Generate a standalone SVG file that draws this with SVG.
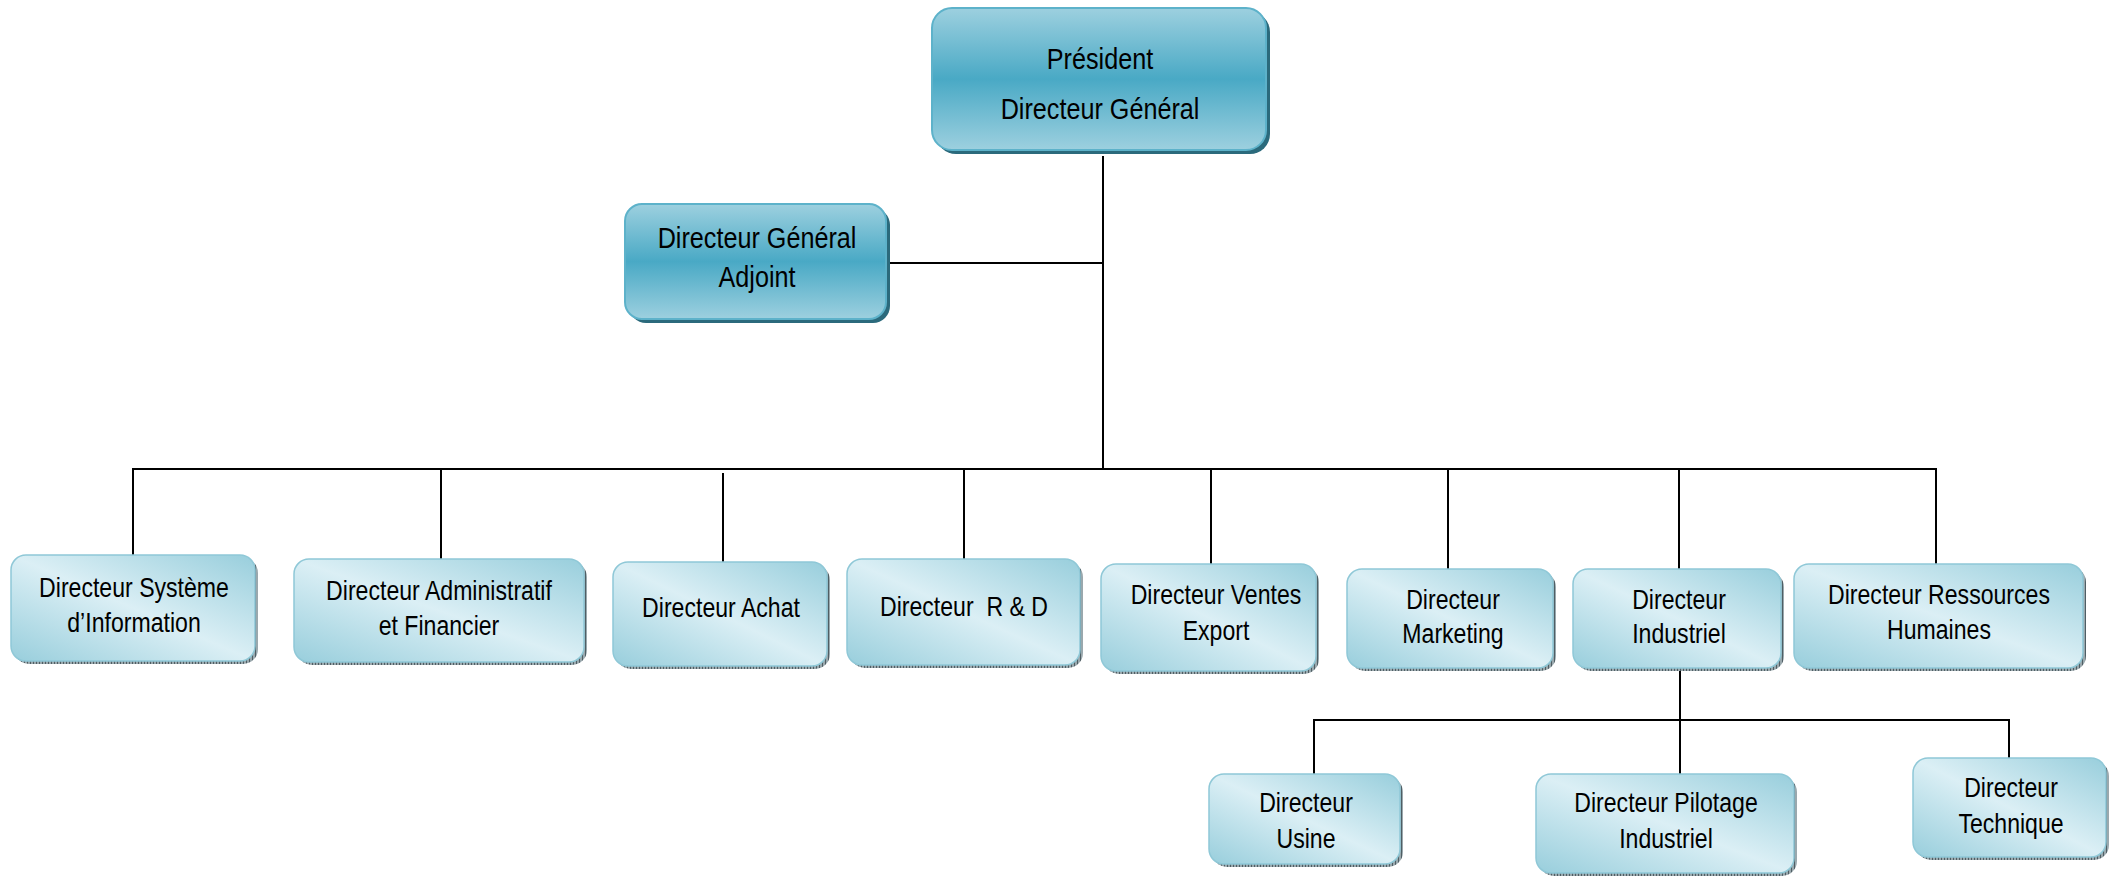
<svg xmlns="http://www.w3.org/2000/svg" width="2114" height="879" viewBox="0 0 2114 879">
<defs>
<linearGradient id="gTop" x1="0" y1="0" x2="0" y2="1">
<stop offset="0" stop-color="#9dd0df"/>
<stop offset="0.5" stop-color="#49a9c5"/>
<stop offset="1" stop-color="#9dd0df"/>
</linearGradient>
<linearGradient id="gBot" x1="1" y1="0" x2="0" y2="1">
<stop offset="0" stop-color="#98cedc"/>
<stop offset="0.5" stop-color="#dbeff5"/>
<stop offset="1" stop-color="#98cedc"/>
</linearGradient>
<pattern id="hatch" width="3" height="3" patternUnits="userSpaceOnUse">
<rect width="3" height="3" fill="#9aa8ad"/>
<rect width="1" height="3" fill="#4f5e64"/>
</pattern>
</defs>
<style>
.top{fill:url(#gTop);stroke:#5db2ca;stroke-width:2}
.tsh{fill:#2b6a7c}
.bot{fill:url(#gBot);stroke:#8fc8d7;stroke-width:1.5}
.bsh{fill:url(#hatch)}
text{font-family:"Liberation Sans",Arial,sans-serif;fill:#000;text-anchor:middle}
.t1{font-size:30px}
.t2{font-size:27.5px}
.conn line{stroke:#000;stroke-width:2}
</style>
<g class="conn" id="connectors">
<line x1="1103" y1="156" x2="1103" y2="470"/>
<line x1="888" y1="263" x2="1103" y2="263"/>
<line x1="132" y1="469" x2="1937" y2="469"/>
<line x1="133" y1="469" x2="133" y2="555"/>
<line x1="441" y1="469" x2="441" y2="559"/>
<line x1="723" y1="473" x2="723" y2="562"/>
<line x1="964" y1="469" x2="964" y2="559"/>
<line x1="1211" y1="469" x2="1211" y2="564"/>
<line x1="1448" y1="469" x2="1448" y2="569"/>
<line x1="1679" y1="469" x2="1679" y2="569"/>
<line x1="1936" y1="469" x2="1936" y2="564"/>
<line x1="1680" y1="671" x2="1680" y2="774"/>
<line x1="1313" y1="720" x2="2010" y2="720"/>
<line x1="1314" y1="720" x2="1314" y2="774"/>
<line x1="2009" y1="720" x2="2009" y2="758"/>
</g>
<g id="president">
<rect class="tsh" x="936" y="12" width="334" height="142" rx="20"/>
<rect class="top" x="932" y="8" width="334" height="142" rx="20"/>
<g transform="translate(1100 0) scale(0.84 1)">
<text class="t1" x="0" y="69">Président</text>
<text class="t1" x="0" y="119">Directeur Général</text>
</g>
</g>
<g id="dga">
<rect class="tsh" x="629" y="208" width="261" height="115" rx="17"/>
<rect class="top" x="625" y="204" width="261" height="115" rx="17"/>
<g transform="translate(757 0) scale(0.84 1)">
<text class="t1" x="0" y="248">Directeur Général</text>
<text class="t1" x="0" y="287">Adjoint</text>
</g>
</g>
<g id="dsi">
<rect class="bsh" x="14" y="558" width="244" height="106" rx="15"/>
<rect class="bot" x="11" y="555" width="244" height="106" rx="15"/>
<g transform="translate(134 0) scale(0.84 1)">
<text class="t2" x="0" y="597">Directeur Système</text>
<text class="t2" x="0" y="632">d’Information</text>
</g>
</g>
<g id="daf">
<rect class="bsh" x="297" y="562" width="290" height="103" rx="15"/>
<rect class="bot" x="294" y="559" width="290" height="103" rx="15"/>
<g transform="translate(439 0) scale(0.84 1)">
<text class="t2" x="0" y="600">Directeur Administratif</text>
<text class="t2" x="0" y="635">et Financier</text>
</g>
</g>
<g id="achat">
<rect class="bsh" x="616" y="565" width="214" height="104" rx="15"/>
<rect class="bot" x="613" y="562" width="214" height="104" rx="15"/>
<g transform="translate(721 0) scale(0.84 1)">
<text class="t2" x="0" y="617">Directeur Achat</text>
</g>
</g>
<g id="rd">
<rect class="bsh" x="850" y="562" width="233" height="106" rx="15"/>
<rect class="bot" x="847" y="559" width="233" height="106" rx="15"/>
<g transform="translate(964 0) scale(0.84 1)">
<text class="t2" x="0" y="616" xml:space="preserve">Directeur  R &amp; D</text>
</g>
</g>
<g id="ventes">
<rect class="bsh" x="1104" y="567" width="215" height="107" rx="15"/>
<rect class="bot" x="1101" y="564" width="215" height="107" rx="15"/>
<g transform="translate(1216 0) scale(0.84 1)">
<text class="t2" x="0" y="604">Directeur Ventes</text>
<text class="t2" x="0" y="640">Export</text>
</g>
</g>
<g id="marketing">
<rect class="bsh" x="1350" y="572" width="206" height="99" rx="15"/>
<rect class="bot" x="1347" y="569" width="206" height="99" rx="15"/>
<g transform="translate(1453 0) scale(0.84 1)">
<text class="t2" x="0" y="609">Directeur</text>
<text class="t2" x="0" y="643">Marketing</text>
</g>
</g>
<g id="industriel">
<rect class="bsh" x="1576" y="572" width="208" height="99" rx="15"/>
<rect class="bot" x="1573" y="569" width="208" height="99" rx="15"/>
<g transform="translate(1679 0) scale(0.84 1)">
<text class="t2" x="0" y="609">Directeur</text>
<text class="t2" x="0" y="643">Industriel</text>
</g>
</g>
<g id="rh">
<rect class="bsh" x="1797" y="567" width="289" height="104" rx="15"/>
<rect class="bot" x="1794" y="564" width="289" height="104" rx="15"/>
<g transform="translate(1939 0) scale(0.84 1)">
<text class="t2" x="0" y="604">Directeur Ressources</text>
<text class="t2" x="0" y="639">Humaines</text>
</g>
</g>
<g id="usine">
<rect class="bsh" x="1212" y="777" width="191" height="90" rx="15"/>
<rect class="bot" x="1209" y="774" width="191" height="90" rx="15"/>
<g transform="translate(1306 0) scale(0.84 1)">
<text class="t2" x="0" y="812">Directeur</text>
<text class="t2" x="0" y="848">Usine</text>
</g>
</g>
<g id="pilotage">
<rect class="bsh" x="1539" y="777" width="258" height="99" rx="15"/>
<rect class="bot" x="1536" y="774" width="258" height="99" rx="15"/>
<g transform="translate(1666 0) scale(0.84 1)">
<text class="t2" x="0" y="812">Directeur Pilotage</text>
<text class="t2" x="0" y="848">Industriel</text>
</g>
</g>
<g id="technique">
<rect class="bsh" x="1916" y="761" width="193" height="99" rx="15"/>
<rect class="bot" x="1913" y="758" width="193" height="99" rx="15"/>
<g transform="translate(2011 0) scale(0.84 1)">
<text class="t2" x="0" y="797">Directeur</text>
<text class="t2" x="0" y="833">Technique</text>
</g>
</g>
</svg>
